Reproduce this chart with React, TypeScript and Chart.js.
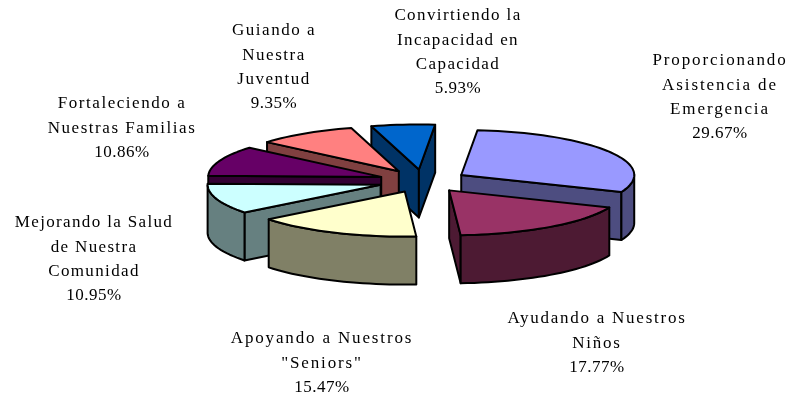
import React, { useEffect, useRef } from "react";
import { Chart, registerables } from "chart.js";

Chart.register(...registerables);

const categories = [
  "Proporcionando Asistencia de Emergencia",
  "Ayudando a Nuestros Niños",
  'Apoyando a Nuestros "Seniors"',
  "Mejorando la Salud de Nuestra Comunidad",
  "Fortaleciendo a Nuestras Familias",
  "Guiando a Nuestra Juventud",
  "Convirtiendo la Incapacidad en Capacidad",
];
const shares = [29.67, 17.77, 15.47, 10.95, 10.86, 9.35, 5.93];
const topColors = ["#9999FF", "#993366", "#FFFFCC", "#CCFFFF", "#660066", "#FF8080", "#0066CC"];
const sideColors = ["#4D4D80", "#4D1A33", "#808066", "#668080", "#330033", "#804040", "#003366"];
const labelLines = [
  ["Proporcionando", "Asistencia de", "Emergencia"],
  ["Ayudando a Nuestros", "Niños"],
  ['Apoyando a Nuestros', '"Seniors"'],
  ["Mejorando la Salud", "de Nuestra", "Comunidad"],
  ["Fortaleciendo a", "Nuestras Familias"],
  ["Guiando a", "Nuestra", "Juventud"],
  ["Convirtiendo la", "Incapacidad en", "Capacidad"],
];
const labelAnchors = [
  [720, 61],
  [597, 319],
  [322, 339],
  [94, 223],
  [122, 104],
  [274, 31],
  [458, 16],
];
const labelSpacing = [1.9, 1.75, 1.85, 1.35, 1.55, 1.5, 1.4];
const percentSpacing = 0.5;
const labelStep = 24.2;
const paintOrder = [6, 5, 4, 3, 0, 1, 2];
const squash = 0.2586;
const depth = 48;

const pie3d = {
  id: "pie3d",
  beforeDatasetsDraw(chart: any) {
    const ctx = chart.ctx;
    const meta = chart.getDatasetMeta(0);
    ctx.save();
    ctx.lineWidth = 2;
    ctx.lineJoin = "round";
    ctx.strokeStyle = "#000";

    for (const i of paintOrder) {
      const arc = meta.data[i];
      const { x, y, startAngle, endAngle, outerRadius, options } = arc;
      const rx = outerRadius;
      const ry = 174 * squash;
      const mid = (startAngle + endAngle) / 2;
      const cx = x + options.offset * Math.cos(mid);
      const cy = y + options.offset * squash * Math.sin(mid);
      const rim = (a: number) => [cx + rx * Math.cos(a), cy + ry * Math.sin(a)];
      const steps = Math.max(8, Math.ceil((endAngle - startAngle) / 0.04));
      const pts: number[][] = [];
      for (let k = 0; k <= steps; k++) pts.push(rim(startAngle + ((endAngle - startAngle) * k) / steps));

      const face = (path: number[][]) => {
        ctx.beginPath();
        path.forEach((p, n) => (n ? ctx.lineTo(p[0], p[1]) : ctx.moveTo(p[0], p[1])));
        for (let n = path.length - 1; n >= 0; n--) ctx.lineTo(path[n][0], path[n][1] + depth);
        ctx.closePath();
        ctx.fillStyle = sideColors[i];
        ctx.fill();
        ctx.stroke();
      };

      const tip = [cx, cy];
      const first = pts[0];
      const last = pts[pts.length - 1];
      if (first[0] < tip[0]) face([tip, first]);
      if (tip[0] < last[0]) face([last, tip]);
      let run: number[][] = [];
      for (let k = 0; k < pts.length; k++) {
        const facing =
          (k < pts.length - 1 && pts[k + 1][0] < pts[k][0]) || (k > 0 && pts[k][0] < pts[k - 1][0]);
        if (facing) run.push(pts[k]);
      }
      if (run.length > 1) face(run);

      ctx.beginPath();
      ctx.moveTo(tip[0], tip[1]);
      pts.forEach((p) => ctx.lineTo(p[0], p[1]));
      ctx.closePath();
      ctx.fillStyle = topColors[i];
      ctx.fill();
      ctx.stroke();
    }
    ctx.restore();
    return false;
  },
  afterDraw(chart: any) {
    const ctx = chart.ctx;
    ctx.save();
    ctx.font = '17px "Liberation Serif"';
    ctx.fillStyle = "#000";
    ctx.textAlign = "center";
    ctx.textBaseline = "middle";
    labelLines.forEach((lines, i) => {
      const [ax, ay] = labelAnchors[i];
      ctx.letterSpacing = labelSpacing[i] + "px";
      lines.forEach((t, n) => ctx.fillText(t, ax, ay + n * labelStep));
      ctx.letterSpacing = percentSpacing + "px";
      ctx.fillText(shares[i].toFixed(2) + "%", ax, ay + lines.length * labelStep);
    });
    ctx.restore();
  },
};

export default function App() {
  const ref = useRef<HTMLCanvasElement>(null);
  useEffect(() => {
    const chart = new Chart(ref.current!, {
      type: "pie",
      data: {
        labels: categories,
        datasets: [{ data: shares, backgroundColor: topColors, offset: 44.7, radius: 173 } as any],
      },
      options: {
        animation: false,
        responsive: false,
        rotation: 5.4,
        layout: { padding: { left: 56, bottom: 38 } },
        plugins: { legend: { display: false }, tooltip: { enabled: false } },
      },
      plugins: [pie3d],
    } as any);
    return () => chart.destroy();
  }, []);
  return (
    <canvas
      ref={ref}
      width={790}
      height={400}
      style={{ position: "fixed", left: 0, top: 0, width: 790, height: 400, background: "#fff" }}
    />
  );
}
